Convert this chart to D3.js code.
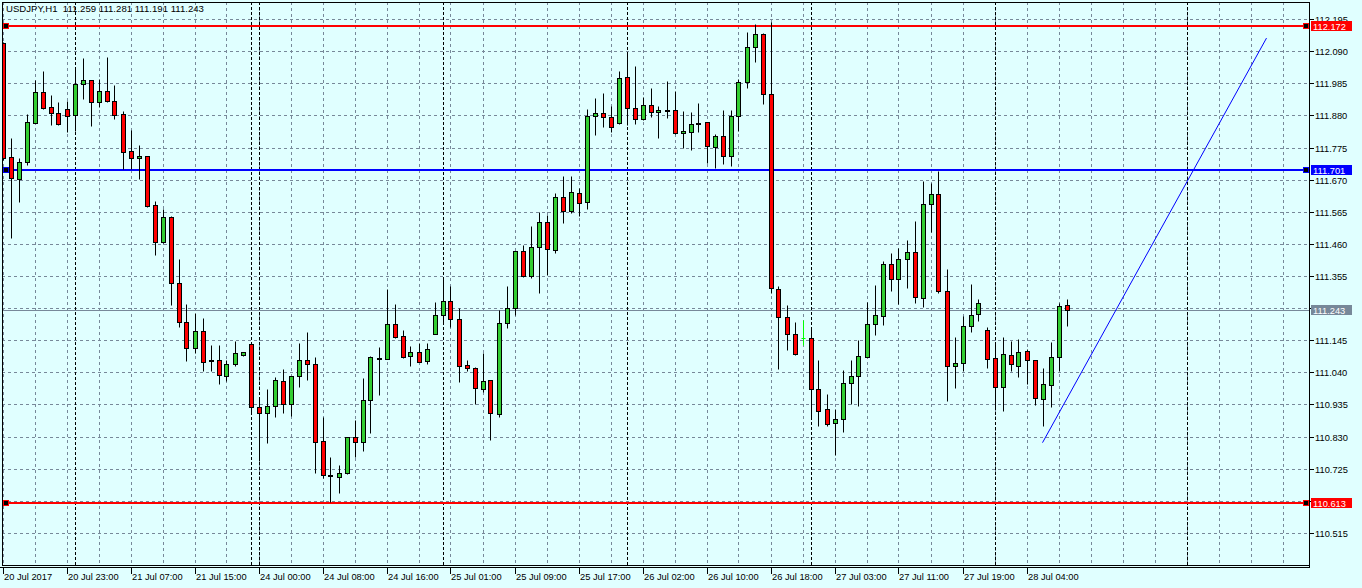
<!DOCTYPE html>
<html><head><meta charset="utf-8">
<script src="https://cdn.jsdelivr.net/npm/d3@7"></script>
<style>html,body{margin:0;padding:0;background:#e0ffff;}svg{display:block;}</style>
</head><body>
<svg id="c" width="1362" height="588"></svg>
<script>
const symbolTitle = "USDJPY,H1  111.259 111.281 111.191 111.243";
const opens = [112.116,111.743,111.671,111.729,111.856,111.957,111.907,111.887,111.901,111.880,
111.982,111.996,111.923,111.960,111.926,111.884,111.764,111.741,111.747,111.587,
111.465,111.548,111.331,111.203,111.118,111.174,111.079,111.079,111.027,111.066,
111.096,111.132,110.926,110.906,110.930,111.012,110.935,111.028,111.080,111.066,
110.817,110.703,110.697,110.712,110.827,110.813,110.949,111.086,111.083,111.198,
111.158,111.092,111.105,111.078,111.167,111.226,111.273,111.214,111.064,111.053,
110.984,111.015,110.903,111.200,111.249,111.437,111.356,111.449,111.530,111.439,
111.612,111.569,111.625,111.596,111.879,111.887,111.874,111.856,112.005,111.903,
111.867,111.913,111.890,111.898,111.898,111.821,111.827,111.855,111.857,111.778,
111.813,111.748,111.877,111.988,112.103,112.145,111.949,111.311,111.220,111.167,
111.151,111.151,110.984,110.919,110.873,110.886,111.004,111.028,111.091,111.198,
111.224,111.393,111.344,111.409,111.432,111.282,111.590,111.622,111.307,111.062,
111.070,111.193,111.230,111.178,111.086,110.991,111.097,111.062,111.110,111.080,
110.952,110.997,111.089,111.259];
const highs = [112.120,111.805,111.740,111.884,111.996,112.025,111.946,111.924,111.927,112.034,
112.067,111.997,111.998,112.070,111.980,111.894,111.832,111.783,111.748,111.600,
111.575,111.550,111.411,111.263,111.233,111.217,111.129,111.129,111.080,111.142,
111.107,111.133,110.955,110.985,111.024,111.051,111.029,111.137,111.172,111.089,
110.895,110.762,110.737,110.828,110.884,111.023,111.093,111.122,111.312,111.263,
111.178,111.126,111.135,111.135,111.271,111.350,111.323,111.249,111.080,111.058,
111.104,111.016,111.244,111.322,111.438,111.456,111.518,111.564,111.554,111.627,
111.682,111.682,111.642,111.901,111.937,111.952,111.911,112.025,112.081,112.042,
111.941,111.969,111.911,111.993,111.960,111.895,111.891,111.920,111.858,111.818,
111.898,111.898,111.999,112.153,112.179,112.148,112.186,111.322,111.260,111.205,
111.211,111.189,111.080,110.969,110.919,111.048,111.080,111.146,111.269,111.326,
111.404,111.429,111.445,111.473,111.535,111.667,111.660,111.698,111.377,111.154,
111.225,111.329,111.279,111.187,111.135,111.157,111.144,111.149,111.116,111.081,
111.055,111.140,111.266,111.281];
const lows = [111.735,111.478,111.596,111.718,111.855,111.901,111.849,111.850,111.827,111.830,
111.935,111.847,111.909,111.925,111.869,111.705,111.705,111.672,111.580,111.424,
111.462,111.260,111.189,111.078,111.102,111.045,111.043,111.002,111.012,111.062,
111.095,110.911,110.751,110.808,110.893,110.908,110.897,110.991,111.015,110.712,
110.696,110.617,110.644,110.708,110.764,110.784,110.843,110.967,111.082,111.153,
111.088,111.061,111.074,111.067,111.166,111.206,111.187,111.009,111.043,110.936,
110.977,110.819,110.893,111.184,111.227,111.351,111.350,111.298,111.358,111.429,
111.529,111.560,111.552,111.573,111.816,111.843,111.827,111.851,111.849,111.851,
111.864,111.876,111.807,111.873,111.820,111.772,111.768,111.827,111.726,111.709,
111.721,111.716,111.830,111.969,112.056,111.918,111.298,111.052,111.113,111.098,
111.130,110.890,110.865,110.866,110.770,110.846,110.936,110.931,111.090,111.162,
111.195,111.307,111.263,111.315,111.268,111.253,111.500,111.300,110.947,110.990,
111.045,111.173,111.209,111.053,110.928,110.915,111.045,111.024,111.002,110.933,
110.866,110.928,111.045,111.191];
const closes = [111.740,111.674,111.729,111.858,111.957,111.905,111.887,111.851,111.879,111.983,
111.996,111.923,111.960,111.926,111.880,111.762,111.740,111.747,111.585,111.465,
111.548,111.331,111.203,111.118,111.174,111.073,111.077,111.030,111.066,111.102,
111.106,110.926,110.906,110.930,111.015,110.935,111.028,111.080,111.066,110.813,
110.704,110.701,110.710,110.827,110.813,110.949,111.089,111.084,111.198,111.157,
111.091,111.105,111.075,111.115,111.227,111.273,111.213,111.062,111.053,110.989,
111.012,110.906,111.200,111.249,111.437,111.356,111.449,111.530,111.442,111.612,
111.569,111.629,111.593,111.877,111.887,111.876,111.843,112.001,111.903,111.867,
111.913,111.890,111.898,111.897,111.821,111.828,111.851,111.853,111.781,111.813,
111.748,111.877,111.988,112.103,112.145,111.949,111.315,111.220,111.167,111.099,
111.151,110.984,110.915,110.871,110.886,111.004,111.028,111.093,111.198,111.227,
111.393,111.344,111.409,111.432,111.285,111.590,111.622,111.307,111.062,111.070,
111.191,111.227,111.266,111.082,110.991,111.100,111.066,111.106,111.080,110.955,
111.002,111.089,111.257,111.243];

const priceTicks = [112.195,112.090,111.985,111.880,111.775,111.670,111.565,111.460,111.355,
111.250,111.145,111.040,110.935,110.830,110.725,110.620,110.515];
const timeLabels = ["20 Jul 2017","20 Jul 23:00","21 Jul 07:00","21 Jul 15:00","24 Jul 00:00",
"24 Jul 08:00","24 Jul 16:00","25 Jul 01:00","25 Jul 09:00","25 Jul 17:00","26 Jul 02:00",
"26 Jul 10:00","26 Jul 18:00","27 Jul 03:00","27 Jul 11:00","27 Jul 19:00","28 Jul 04:00"];
const timeLabelBars = [0,8,16,24,32,40,48,56,64,72,80,88,96,104,112,120,128];
const daySeparatorBars = [9,31,32,55,78,101,124,148];
const levelPrices = [112.172,111.701,110.613];
const levelKinds = ["red","blue","red"];
const currentPrice = 111.243;
const trendBars = [130,158];
const trendPrices = [110.810,112.133];

const W=1362,H=588, L=2, R=1309, T=2, B=565;
const svg=d3.select("#c");
svg.append("rect").attr("width",W).attr("height",H).attr("fill","#e0ffff");
const x=d3.scaleLinear().domain([0,160]).range([2.5,1282.5]);
const y=d3.scaleLinear().domain([110.41,112.251]).range([B,T]);
const px=v=>Math.round(v)+0.5;
const FONT="Liberation Sans, Arial, sans-serif";

svg.append("clipPath").attr("id","clip").append("rect").attr("x",L+1).attr("y",T+1).attr("width",R-L-1).attr("height",B-T-1);
const g=svg.append("g").attr("clip-path","url(#clip)");

// horizontal grid
g.selectAll(".hg").data(priceTicks).join("line")
 .attr("x1",L).attr("x2",R).attr("y1",d=>px(y(d))).attr("y2",d=>px(y(d)))
 .attr("stroke","#778899").attr("stroke-dasharray","3,3");
// vertical grid
const vgrid=d3.range(0,161,4);
g.selectAll(".vg").data(vgrid).join("line")
 .attr("x1",d=>px(x(d))).attr("x2",d=>px(x(d))).attr("y1",T).attr("y2",B)
 .attr("stroke","#778899").attr("stroke-dasharray","3,3");
// day separators
g.selectAll(".ds").data(daySeparatorBars).join("line")
 .attr("x1",d=>px(x(d))).attr("x2",d=>px(x(d))).attr("y1",T).attr("y2",B)
 .attr("stroke","#000").attr("stroke-dasharray","3,2");

// current price line
g.append("line").attr("x1",L).attr("x2",R).attr("y1",px(y(currentPrice))).attr("y2",px(y(currentPrice)))
 .attr("stroke","#778899");

// level lines
const lvlColor={red:"#ff0000",blue:"#0000ff"};
levelPrices.forEach((p,k)=>{
  const yy=Math.round(y(p));
  g.append("line").attr("x1",L).attr("x2",R).attr("y1",yy).attr("y2",yy)
   .attr("stroke",lvlColor[levelKinds[k]]).attr("stroke-width",2);
});

// candles
const data=opens.map((o,i)=>({i,o,h:highs[i],l:lows[i],c:closes[i]}));
const cg=g.append("g");
data.forEach(d=>{
  const cx=px(x(d.i));
  const doji=d.o===d.c;
  cg.append("line").attr("x1",cx).attr("x2",cx).attr("y1",px(y(d.h))).attr("y2",px(y(d.l)))
    .attr("stroke",doji?"#00ff00":"#000");
  if(doji){
    cg.append("line").attr("x1",cx-2).attr("x2",cx+2).attr("y1",px(y(d.o))).attr("y2",px(y(d.o))).attr("stroke","#00ff00");
  } else {
    const top=Math.round(y(Math.max(d.o,d.c))), bot=Math.round(y(Math.min(d.o,d.c)));
    cg.append("rect").attr("x",cx-2).attr("width",4).attr("y",top+0.5).attr("height",Math.max(1,bot-top))
      .attr("fill",d.c>d.o?"#32cd32":"#ff0000").attr("stroke","#000");
  }
});

// trend line
svg.append("line").attr("x1",x(trendBars[0])).attr("y1",y(trendPrices[0]))
 .attr("x2",x(trendBars[1])).attr("y2",y(trendPrices[1])).attr("stroke","#0000ff").attr("stroke-width",1);

// level anchors
levelPrices.forEach((p,k)=>{
  const yy=Math.round(y(p));
  [3,1303].forEach(xx=>{
    svg.append("rect").attr("x",xx+0.5).attr("y",yy-3+0.5).attr("width",5).attr("height",5)
     .attr("fill","#000").attr("stroke",lvlColor[levelKinds[k]]);
  });
});

// borders
svg.append("line").attr("x1",L+0.5).attr("x2",L+0.5).attr("y1",T).attr("y2",B+1).attr("stroke","#000");
svg.append("line").attr("x1",L).attr("x2",R+1).attr("y1",T+0.5).attr("y2",T+0.5).attr("stroke","#000");
svg.append("line").attr("x1",R+0.5).attr("x2",R+0.5).attr("y1",T).attr("y2",B+3).attr("stroke","#000");
svg.append("line").attr("x1",L).attr("x2",R+1).attr("y1",B+0.5).attr("y2",B+0.5).attr("stroke","#000");
svg.append("line").attr("x1",0).attr("x2",R+1).attr("y1",B+2.5).attr("y2",B+2.5).attr("stroke","#000");

// right axis
priceTicks.forEach(t=>{
  const yy=px(y(t));
  svg.append("line").attr("x1",R).attr("x2",R+5).attr("y1",yy).attr("y2",yy).attr("stroke","#000");
  svg.append("text").attr("x",R+6).attr("y",yy+3.5).text(t.toFixed(3))
   .attr("font-family",FONT).attr("font-size","9.3px").attr("fill","#000");
});
// price labels
const tagColors={red:"#ff0000",blue:"#0000ff",gray:"#778899"};
const tags=levelPrices.map((p,k)=>({p,col:tagColors[levelKinds[k]]})).concat([{p:currentPrice,col:tagColors.gray}]);
tags.forEach(t=>{
  const yy=Math.round(y(t.p));
  svg.append("rect").attr("x",1311).attr("y",yy-5).attr("width",41).attr("height",10).attr("fill",t.col);
  svg.append("text").attr("x",1313).attr("y",yy+3.5).text(t.p.toFixed(3))
   .attr("font-family",FONT).attr("font-size","9.3px").attr("fill","#fff");
});

// time axis
timeLabels.forEach((lab,k)=>{
  const xx=px(x(timeLabelBars[k]));
  svg.append("line").attr("x1",xx).attr("x2",xx).attr("y1",B+3).attr("y2",B+9).attr("stroke","#000");
  svg.append("text").attr("x",xx+0.5).attr("y",580).text(lab)
   .attr("font-family",FONT).attr("font-size","9.3px").attr("fill","#000");
});

// title
svg.append("text").attr("x",6).attr("y",12).text(symbolTitle).attr("xml:space","preserve")
 .style("white-space","pre").attr("font-family",FONT).attr("font-size","9.6px").attr("fill","#000");
</script>
</body></html>
